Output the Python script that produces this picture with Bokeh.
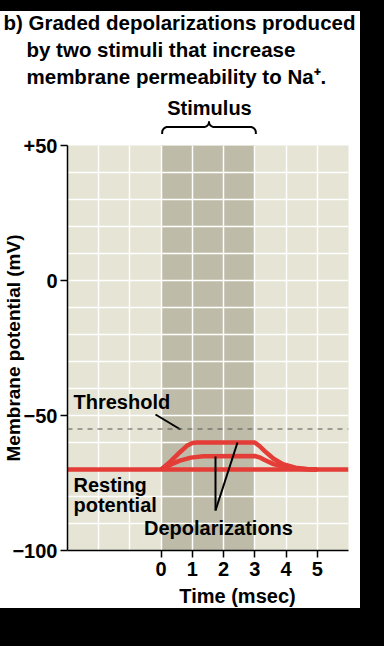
import numpy as np
from bokeh.plotting import figure
from bokeh.models import Range1d, FixedTicker, Label, Span, Spacer, Grid
from bokeh.layouts import column, row
from bokeh.core.properties import value
from bokeh.embed import file_html
from bokeh.resources import INLINE

# ---------------- data ----------------
x_ticks = [0, 1, 2, 3, 4, 5]
y_ticks = [-100, -50, 0, 50]
y_tick_labels = {-100: "\u2212100", -50: "\u221250", 0: "0", 50: "+50"}
x_grid = [-2, -1, 0, 1, 2, 3, 4, 5]
y_grid = [-90, -80, -70, -60, -50, -40, -30, -20, -10, 0, 10, 20, 30, 40]

stim_start = 0.0
stim_end = 3.0
threshold = -55.0

resting_t = [-3.0, 6.0]
resting_v = [-70.0, -70.0]

upper_t = [0.0, 0.3, 0.6, 0.85, 1.0, 1.15, 3.0, 3.15, 3.3, 3.6, 3.9, 4.3, 4.7, 5.0]
upper_v = [-70.0, -67.0, -63.6, -61.0, -60.2, -60.0, -60.0, -61.3, -63.0, -66.0, -68.0, -69.3, -69.9, -70.0]

lower_t = [0.0, 0.3, 0.6, 0.95, 1.35, 3.0, 3.15, 3.3, 3.6, 3.9, 4.3, 4.7, 5.0]
lower_v = [-70.0, -68.2, -66.7, -65.6, -65.1, -65.0, -65.5, -66.4, -68.0, -68.9, -69.6, -69.9, -70.0]

title_lines = ["b) Graded depolarizations produced",
               "by two stimuli that increase",
               "membrane permeability to Na\u207a."]

# ---------------- layout constants (page pixels) ----------------
X0, X1, Y0, Y1 = -3.0, 6.0, -100.0, 50.0
FL, FR, FT, FB = 67, 348, 145, 550
TOP = 11          # black band above the white sheet
HEAD_END = 134    # bottom of the header strip
FOOT_START = 581  # top of the footer strip
W = 360
PAGE_BOTTOM = 608
SX = (FR - FL) / (X1 - X0)
SY = (FB - FT) / (Y1 - Y0)
BL = 7            # baseline correction of the text renderer

def dx(px):
    return X0 + (px - FL) / SX

def dy(py):
    return Y0 + (FB - py) / SY

FONT = "Liberation Sans"
FS = "20px"
RED = "#e43d37"

def strip(y_top, y_bot):
    f = figure(width=W, height=y_bot - y_top, x_range=Range1d(0, W), y_range=Range1d(y_bot, y_top),
               output_backend="svg", toolbar_location=None, title=None,
               x_axis_location=None, y_axis_location=None,
               min_border_left=0, min_border_right=0, min_border_top=0, min_border_bottom=0)
    f.grid.visible = False
    f.outline_line_color = None
    f.background_fill_color = "white"
    f.border_fill_color = "white"
    f.frame_align = False
    return f

def stext(f, txt, x, y, align="left", size=FS):
    f.text(x=[x], y=[y - BL], text=[txt], text_font=value(FONT), text_font_style="bold",
           text_font_size=value(size), text_color="black", text_align=align,
           text_baseline="alphabetic")

# ---------------- header (title, stimulus brace) ----------------
hp = strip(TOP, HEAD_END)
stext(hp, title_lines[0], 3, 29, size="20.5px")
stext(hp, title_lines[1], 26, 56, size="20.5px")
stext(hp, title_lines[2], 26, 83, size="20.5px")
stext(hp, "Stimulus", 209, 114, align="center")

bx0 = FL + (stim_start - X0) * SX + 1
bx1 = FL + (stim_end - X0) * SX + 1
bm = (bx0 + bx1) / 2
yb, yh, yt = 133.5, 126.5, 121.5
r = 5.5
th = np.linspace(0, np.pi / 2, 10)
left_end = [(bx0 + r - r * np.cos(a), yh + r - r * np.sin(a)) for a in th]
left_mid = [(bm - r + r * np.sin(a), yh + (yt - yh) * (1 - np.cos(a))) for a in th]
path = [(bx0, yb)] + left_end + left_mid
full = path + [(2 * bm - x, y) for (x, y) in reversed(path)]
hp.line([x for x, y in full], [y for x, y in full], line_color="black", line_width=2,
        line_join="round", line_cap="round")

# ---------------- footer (x-axis title) ----------------
fp = strip(FOOT_START, PAGE_BOTTOM)
stext(fp, "Time (msec)", 237, 602, align="center")

# ---------------- main chart ----------------
mp = figure(width=W, height=FOOT_START - HEAD_END, x_range=Range1d(X0, X1), y_range=Range1d(Y0, Y1),
            output_backend="svg", toolbar_location=None, title=None,
            min_border_left=FL, min_border_right=W - FR,
            min_border_top=FT - HEAD_END, min_border_bottom=FOOT_START - FB)
mp.frame_align = False
mp.background_fill_color = "#e6e4d4"
mp.border_fill_color = "white"
mp.outline_line_color = None
mp.grid.visible = False

mp.add_layout(Grid(dimension=0, ticker=FixedTicker(ticks=x_grid), grid_line_color="white", grid_line_width=1.5))
mp.add_layout(Grid(dimension=1, ticker=FixedTicker(ticks=y_grid), grid_line_color="white", grid_line_width=1.5))

# stimulus band (under the grid)
mp.quad(left=[stim_start], right=[stim_end], bottom=[Y0], top=[Y1],
        fill_color="#bebca9", line_color=None, level="image")

for ax in (mp.xaxis[0], mp.yaxis[0]):
    ax.axis_line_color = "black"
    ax.axis_line_width = 1.5
    ax.major_tick_line_color = "black"
    ax.major_tick_line_width = 1.5
    ax.major_tick_out = 7
    ax.major_tick_in = 0
    ax.minor_tick_out = 0
    ax.minor_tick_in = 0
    ax.major_label_text_font = FONT
    ax.major_label_text_font_style = "bold"
    ax.major_label_text_font_size = FS
    ax.major_label_text_color = "black"
    ax.axis_label_text_font = FONT
    ax.axis_label_text_font_style = "bold"
    ax.axis_label_text_color = "black"

xax = mp.xaxis[0]
xax.ticker = FixedTicker(ticks=x_ticks)
xax.major_label_standoff = 4

yax = mp.yaxis[0]
yax.ticker = FixedTicker(ticks=y_ticks)
yax.major_label_overrides = y_tick_labels
yax.major_label_standoff = 3
yax.axis_label = "Membrane potential (mV)"
yax.axis_label_text_font_size = "19px"
yax.axis_label_standoff = -15

# threshold
mp.add_layout(Span(location=threshold, dimension="width", line_color="#555555",
                   line_width=1.2, line_dash="5 5"))

# traces
for t, v in ((resting_t, resting_v), (upper_t, upper_v), (lower_t, lower_v)):
    mp.line(t, v, line_color=RED, line_width=4.5, line_join="round")

# leader lines
mp.segment(x0=[dx(155), dx(215), dx(215)], y0=[dy(414), dy(510), dy(510)],
           x1=[dx(180), dx(215), dx(237)], y1=[dy(429), dy(456), dy(442)],
           line_color="black", line_width=2)

def lab(text, px, py, align="left"):
    mp.add_layout(Label(x=dx(px), y=dy(py - BL), text=text, text_font=FONT,
                        text_font_style="bold", text_font_size=FS,
                        text_color="black", text_align=align,
                        text_baseline="alphabetic"))

lab("Threshold", 73, 408)
lab("Resting", 73, 491)
lab("potential", 73, 511)
lab("Depolarizations", 218, 534, align="center")

sheet = column(hp, mp, fp, width=W, height=PAGE_BOTTOM - TOP,
               styles={"background-color": "white"})
layout = column(Spacer(width=384, height=TOP),
                row(sheet, Spacer(width=384 - W, height=PAGE_BOTTOM - TOP), width=384,
                    height=PAGE_BOTTOM - TOP),
                width=384, height=646, styles={"background-color": "black"})

open("out.html", "w").write(file_html(layout, INLINE))
